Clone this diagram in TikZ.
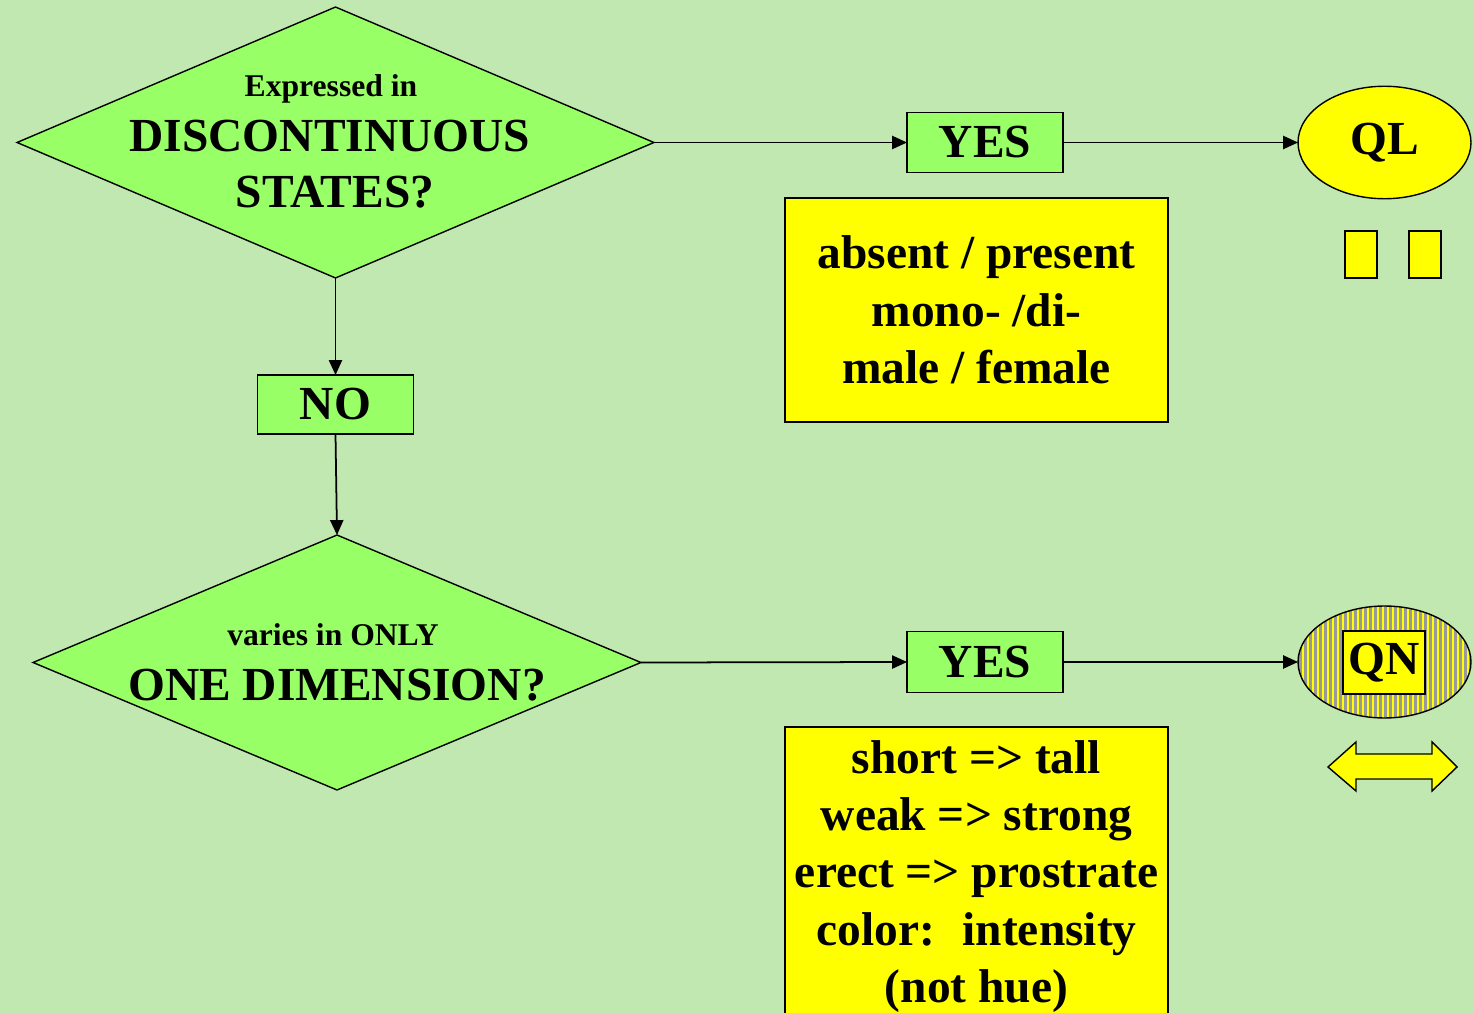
\documentclass[tikz,border=0pt]{standalone}
\usepackage{fontspec}
\setmainfont{Liberation Serif}
\usetikzlibrary{shapes.geometric,arrows.meta}
\definecolor{bg}{HTML}{C2E8B2}
\definecolor{lime}{HTML}{99FF66}
\definecolor{yel}{HTML}{FFFF00}
\definecolor{stripe}{HTML}{999999}
\tikzset{
  box/.style={draw=black, line width=0.8pt, inner sep=0pt, outer sep=0pt},
  big/.style={font=\bfseries\fontsize{27}{32.6}\selectfont, inner sep=0pt},
  small/.style={font=\bfseries\fontsize{18}{21}\selectfont, inner sep=0pt},
  decision/.style={box, diamond, fill=lime},
  answer/.style={box, big, rectangle, fill=lime, minimum width=3.12cm, minimum height=1.21cm},
  note/.style={box, big, rectangle, fill=yel, minimum width=7.66cm, align=center},
  result/.style={box, big, ellipse, fill=yel, minimum width=3.46cm, minimum height=2.25cm},
  arrow/.style={draw=black, line width=1pt, -{Triangle[length=8.5pt,width=7.5pt]}}
}
\begin{document}
\begin{tikzpicture}[x=0.02cm, y=-0.02cm]
  \useasboundingbox (0,0) rectangle (1474,1013);
  \clip (0,0) rectangle (1474,1013);
  \fill[bg] (0,0) rectangle (1474,1013);

  % first question
  \node[decision, minimum width=12.74cm, minimum height=5.42cm] (q1) at (335.5,142.5) {};
  \node[small, anchor=base] (q1a) at (331,97) {Expressed in};
  \node[big, anchor=base] (q1b) at (330,152) {DISCONTINUOUS};
  \node[big, anchor=base] (q1c) at (335,208) {STATES?};

  \node[answer] (yes1) at (985,142.5) {YES};
  \node[result] (ql) at (1384.5,142.5) {QL};
  \node[note, minimum height=4.48cm] (ex1) at (976.5,310)
    {absent / present\\ mono- /di-\\ male / female};
  \foreach \x in {1345,1409}
    \draw[box, fill=yel] (\x,231) rectangle ++(32,47);

  \node[answer, minimum height=1.18cm] (no1) at (335.5,404.5) {NO};

  % second question
  \node[decision, minimum width=12.16cm, minimum height=5.1cm] (q2) at (337,662.5) {};
  \node[small, anchor=base] (q2a) at (333,645) {varies in ONLY};
  \node[big, anchor=base] (q2b) at (337,700) {ONE DIMENSION?};

  \node[answer] (yes2) at (985,662) {YES};
  \node[result, minimum height=2.24cm,
    path picture={\foreach \i in {0,...,35}
      \draw[stripe, line width=0.05cm]
        ([xshift=0.05cm+\i*0.1cm]path picture bounding box.south west) --
        ([xshift=0.05cm+\i*0.1cm]path picture bounding box.north west);}]
    (qnback) at (1384.5,662) {};
  \node[box, big, fill=yel, minimum width=1.64cm, minimum height=1.26cm] (qn) at (1384,662.5) {QN};
  \draw[box, fill=yel] (1328,767) -- (1356,742) -- (1356,754) -- (1432,754) -- (1432,742)
    -- (1457,767) -- (1432,791) -- (1432,779) -- (1356,779) -- (1356,791) -- cycle;
  \node[note, minimum height=5.98cm] (ex2) at (976.5,876.5)
    {short => tall\\ weak => strong\\ erect => prostrate\\ color:~ intensity\\ (not hue)};

  % connectors
  \draw[arrow] (q1.east) -- (yes1.west);
  \draw[arrow] (yes1.east) -- (ql.west);
  \draw[arrow] (q1.south) -- (no1.north);
  \draw[arrow] (no1.south) -- (q2.north);
  \draw[arrow] (q2.east) -- (yes2.west);
  \draw[arrow] (yes2.east) -- (qnback.west);
\end{tikzpicture}
\end{document}
